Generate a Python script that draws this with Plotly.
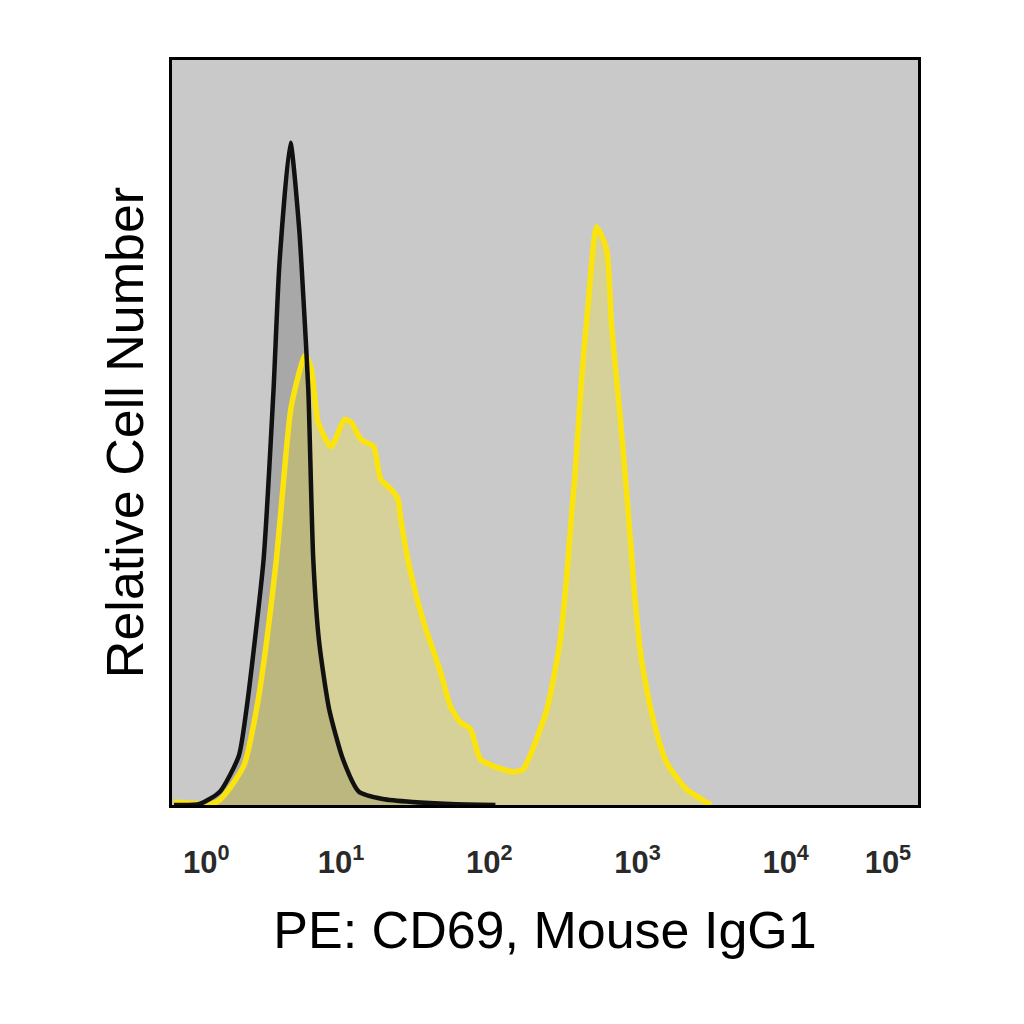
import plotly.graph_objects as go

# ---------------------------------------------------------------- data

# isotype control (black), PE fluorescence vs relative cell number
iso_x = [0.745, 1.11, 1.52, 2.04, 2.30, 2.61, 3.00, 3.50, 3.84, 4.55, 5.22,
         5.56, 6.01, 6.49, 7.11, 8.30, 10.3, 13.2, 19.1, 30.4, 54.7, 110]
iso_y = [0, 0.15, 2.0, 7.4, 14.5, 24.6, 37.1, 62.7, 81.9, 100, 86.9,
         76.8, 62.7, 37.1, 24.6, 14.5, 6.9, 2.0, 0.9, 0.45, 0.15, 0]

# CD69 stained (yellow)
cd69_x = [0.745, 1.45, 2.20, 2.69, 3.14, 3.66, 3.95, 4.61, 5.73, 6.30, 7.01,
          8.57, 10.5, 11.7, 13.6, 16.6, 18.5, 21.7, 24.2, 25.3, 29.5, 36.1,
          46.9, 54.7, 63.8, 74.5, 87.1, 106, 145, 169, 188, 245, 300, 333,
          361, 378, 421, 461, 531, 619, 670, 757, 857, 955, 1064, 1262,
          1567, 2133, 2904, 3141]
cd69_y = [0.45, 0.45, 5.9, 14.5, 24.6, 37.1, 45.1, 60.2, 67.9, 65.8, 57.8,
          54.1, 58.2, 57.8, 55.2, 54.1, 49.2, 47.7, 46.2, 43.1, 35.1, 27.6,
          20.1, 14.9, 12.5, 11.5, 6.9, 5.9, 5.0, 5.4, 7.4, 14.5, 24.6, 34.5,
          44.6, 49.6, 64.7, 74.8, 87.3, 83.9, 72.2, 59.7, 45.7, 32.1, 22.0,
          13.4, 6.5, 2.4, 0.45, 0]

tick_vals = [10 ** 0.09, 10, 100, 1000, 10000, 10 ** 4.69]
tick_text = ["10<sup>0</sup>", "10<sup>1</sup>", "10<sup>2</sup>",
             "10<sup>3</sup>", "10<sup>4</sup>", "10<sup>5</sup>"]

# ---------------------------------------------------------------- figure

fig = go.Figure()

# fills first, outlines on top
fig.add_trace(go.Scatter(x=iso_x, y=iso_y, mode='lines', fill='tozeroy',
                         fillcolor='rgba(0,0,0,0.16)',
                         line=dict(width=0, shape='spline', smoothing=0.6),
                         hoverinfo='skip'))
fig.add_trace(go.Scatter(x=cd69_x, y=cd69_y, mode='lines', fill='tozeroy',
                         fillcolor='rgba(255,235,0,0.24)',
                         line=dict(width=0, shape='spline', smoothing=0.6),
                         hoverinfo='skip'))
fig.add_trace(go.Scatter(x=cd69_x, y=cd69_y, mode='lines',
                         line=dict(color='#fbe40e', width=5.5,
                                   shape='spline', smoothing=0.6)))
fig.add_trace(go.Scatter(x=iso_x, y=iso_y, mode='lines',
                         line=dict(color='#111111', width=4.5,
                                   shape='spline', smoothing=0.6)))

fig.update_layout(
    width=1024, height=1024,
    margin=dict(l=164, r=114, t=52, b=227),
    paper_bgcolor='white',
    plot_bgcolor='#c9c9c9',
    showlegend=False,
    font=dict(family='Liberation Sans, Arial, sans-serif', color='black'),
)

fig.update_xaxes(
    type='log', range=[-0.141, 4.893],
    tickvals=tick_vals, ticktext=tick_text,
    tickfont=dict(family='Liberation Sans Narrow, Liberation Sans',
                  size=31, weight='bold', color='#2a2a2a'),
    ticks='', ticklabelstandoff=28,
    showgrid=False, zeroline=False,
    showline=True, mirror=True, linecolor='black', linewidth=3,
    title=dict(text='PE: CD69, Mouse IgG1', font=dict(size=52), standoff=33),
)
fig.update_yaxes(
    range=[0, 112.5], showticklabels=False, ticks='',
    showgrid=False, zeroline=False,
    showline=True, mirror=True, linecolor='black', linewidth=3,
    title=dict(text='Relative Cell Number', font=dict(size=52), standoff=9),
)

fig.write_html("out.html")
